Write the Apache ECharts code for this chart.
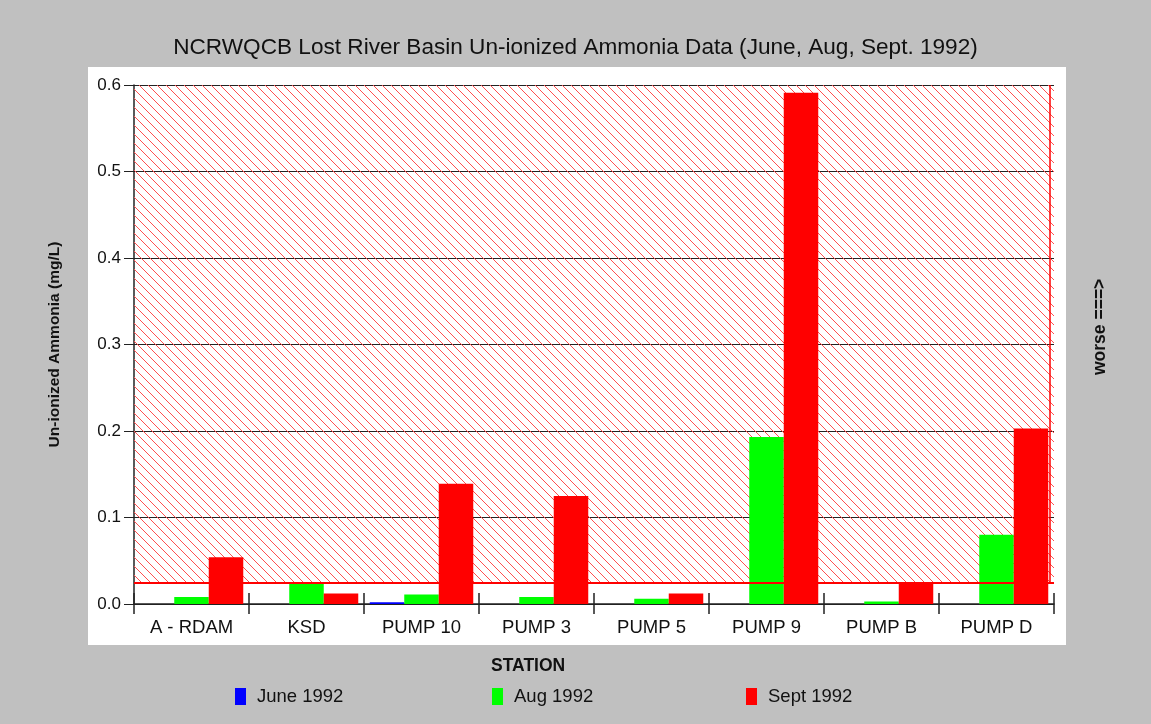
<!DOCTYPE html>
<html><head><meta charset="utf-8">
<script src="https://cdn.jsdelivr.net/npm/echarts@6/dist/echarts.min.js"></script>
<style>html,body{margin:0;padding:0;background:#c0c0c0}#c{width:1151px;height:724px}</style>
</head><body><div id="c"></div>
<script>
var categories = ['A - RDAM','KSD','PUMP 10','PUMP 3','PUMP 5','PUMP 9','PUMP B','PUMP D'];
var june1992 = [null, null, 0.002, null, null, null, null, null];
var aug1992  = [0.008, 0.025, 0.011, 0.008, 0.006, 0.193, 0.003, 0.080];
var sept1992 = [0.054, 0.012, 0.139, 0.125, 0.012, 0.591, 0.023, 0.203];
var yTicks = [0.0, 0.1, 0.2, 0.3, 0.4, 0.5, 0.6];
var limitLow = 0.025, limitHigh = 0.6;

var pc = document.createElement('canvas');
pc.width = 9; pc.height = 9;
var g = pc.getContext('2d');
g.strokeStyle = '#ff5050'; g.lineWidth = 1;
g.beginPath();
g.moveTo(-1,-1); g.lineTo(10,10);
g.moveTo(-1,8); g.lineTo(1,10);
g.moveTo(8,-1); g.lineTo(10,1);
g.stroke();

var font = 'Liberation Sans, Arial, sans-serif';
var chart = echarts.init(document.getElementById('c'));
chart.setOption({
  backgroundColor: '#c0c0c0',
  animation: false,
  title: {text: 'NCRWQCB Lost River Basin Un-ionized Ammonia Data (June, Aug, Sept. 1992)', left: 'center', top: 31,
    textStyle: {fontFamily: font, fontSize: 22.6, fontWeight: 'normal', color: '#111'}},
  legend: [
    {data: ['June 1992'], left: 230, top: 682},
    {data: ['Aug 1992'], left: 487, top: 682},
    {data: ['Sept 1992'], left: 741, top: 682}
  ].map(function(l){ l.icon='rect'; l.itemWidth=11; l.itemHeight=17; l.textStyle={fontFamily:font,fontSize:18.5,color:'#111',padding:[0,0,0,6]}; return l; }),
  grid: {left: 134, right: 97, top: 85, bottom: 120},
  xAxis: [
    {type: 'category', data: categories,
      axisLine: {lineStyle: {color: '#222', width: 1.5}},
      axisTick: {show: true, length: 10, lineStyle: {color: '#222', width: 1.5}},
      axisLabel: {fontFamily: font, fontSize: 18.5, color: '#111', margin: 14}},
    {type: 'category', data: categories, position: 'bottom', silent: true,
      axisLine: {show: false}, axisLabel: {show: false}, splitLine: {show: false},
      axisTick: {show: true, inside: true, length: 11, lineStyle: {color: '#222', width: 1.5}}}
  ],
  yAxis: {type: 'value', min: 0, max: 0.6, interval: 0.1,
    name: 'Un-ionized Ammonia (mg/L)', nameLocation: 'middle', nameGap: 71,
    nameTextStyle: {fontFamily: font, fontSize: 15.5, fontWeight: 'bold', color: '#111'},
    axisLine: {show: true, lineStyle: {color: '#222', width: 1.5}},
    axisTick: {show: true, length: 10, lineStyle: {color: '#222'}},
    axisLabel: {fontFamily: font, fontSize: 17, color: '#111', margin: 13,
      formatter: function(v){ return v.toFixed(1); }},
    splitLine: {show: true, lineStyle: {color: '#222', width: 1}}},
  series: [
    {name: 'hatch', type: 'line', data: [], z: 1, silent: true,
      markArea: {silent: true, itemStyle: {color: {image: pc, repeat: 'repeat'}, borderWidth: 0},
        data: [[{yAxis: limitLow}, {yAxis: limitHigh}]]}},
    {name: 'June 1992', type: 'bar', data: june1992, barGap: '0%', barCategoryGap: '10%', z: 2, itemStyle: {color: '#0000ff'}},
    {name: 'Aug 1992', type: 'bar', data: aug1992, z: 2, itemStyle: {color: '#00ff00'}},
    {name: 'Sept 1992', type: 'bar', data: sept1992, z: 2, itemStyle: {color: '#ff0000'}},
    {name: 'limit', type: 'line', data: [], z: 5, silent: true,
      markLine: {silent: true, precision: 4, symbol: 'none', label: {show: false}, lineStyle: {color: '#ff0000', type: 'solid', width: 2},
        data: [{yAxis: limitLow}]}}
  ]
});
var yLo = chart.convertToPixel({yAxisIndex: 0}, limitLow);
var yHi = chart.convertToPixel({yAxisIndex: 0}, limitHigh);
chart.setOption({graphic: [
  {type: 'rect', z: -10, shape: {x: 88, y: 67, width: 978, height: 578}, style: {fill: '#ffffff'}},
  {type: 'text', left: 491, top: 657, style: {text: 'STATION', font: 'bold 17.5px ' + font, fill: '#111'}},
  {type: 'text', x: 1091, y: 375, rotation: Math.PI/2, style: {text: 'worse ===>', font: 'bold 17.5px ' + font, fill: '#111'}},
  {type: 'line', z: 5, shape: {x1: 1050, y1: yHi, x2: 1050, y2: yLo}, style: {stroke: '#ff0000', lineWidth: 1.5}}
]});
</script></body></html>
